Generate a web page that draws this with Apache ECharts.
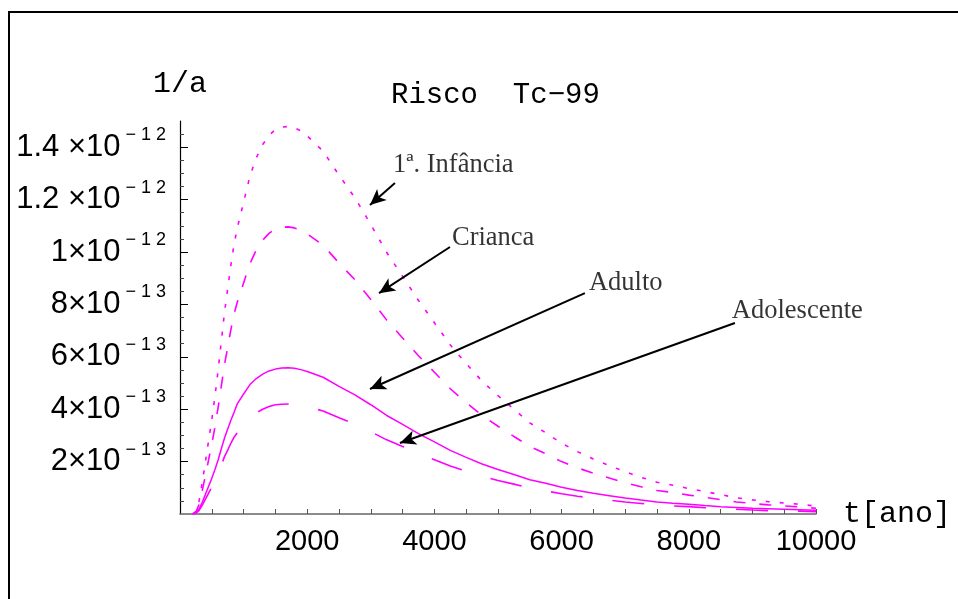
<!DOCTYPE html>
<html>
<head>
<meta charset="utf-8">
<script src="https://cdn.jsdelivr.net/npm/echarts@6/dist/echarts.min.js"></script>
<style>
  html, body { margin: 0; padding: 0; background: #fff; }
  #chart { width: 958px; height: 599px; }
</style>
</head>
<body>
<div id="chart"></div>
<script>
// ---------- data (risk in units of 1e-12 per year) ----------
const years = [200,250,300,350,400,450,500,550,600,650,700,750,800,850,900,
  1000,1100,1200,1300,1400,1500,1600,1700,1800,1900,2000,
  2250,2500,2750,3000,3250,3500,3750,4000,4250,4500,4750,5000,5250,5500,5750,6000,
  6250,6500,6750,7000,7250,7500,7750,8000,8250,8500,8750,9000,9250,9500,9750,10000];

const infancia = [0,0.01,0.05,0.12,0.20,0.28,0.36,0.45,0.55,0.66,0.77,0.86,0.95,1.03,1.09,
  1.19,1.29,1.36,1.41,1.445,1.468,1.477,1.479,1.474,1.462,1.443,
  1.385,1.293,1.207,1.105,0.998,0.907,0.815,0.73,0.645,0.574,0.507,0.452,0.40,0.348,0.31,0.27,
  0.238,0.21,0.185,0.161,0.14,0.121,0.11,0.097,0.086,0.074,0.062,0.054,0.047,0.042,0.037,0.03];

const crianca = [0,0.007,0.037,0.089,0.148,0.207,0.267,0.333,0.408,0.489,0.571,0.637,0.704,0.763,0.808,
  0.882,0.956,1.008,1.045,1.071,1.088,1.094,1.096,1.092,1.083,1.069,
  1.026,0.958,0.894,0.819,0.740,0.672,0.604,0.541,0.478,0.425,0.376,0.335,0.296,0.258,0.230,0.200,
  0.176,0.156,0.137,0.119,0.104,0.090,0.082,0.072,0.064,0.055,0.046,0.040,0.035,0.031,0.027,0.022];

const adulto = [0,0.004,0.019,0.045,0.075,0.106,0.136,0.170,0.207,0.249,0.290,0.324,0.358,0.388,0.42,
  0.458,0.494,0.517,0.534,0.546,0.553,0.557,0.558,0.556,0.551,0.544,
  0.522,0.487,0.455,0.417,0.376,0.342,0.307,0.275,0.243,0.216,0.191,0.170,0.151,0.131,0.117,0.102,
  0.090,0.079,0.070,0.061,0.053,0.046,0.041,0.037,0.032,0.028,0.025,0.022,0.020,0.018,0.016,0.014];

const adolescente = [0,0.003,0.014,0.034,0.057,0.080,0.102,0.128,0.156,0.187,0.219,0.244,0.270,0.293,0.310,
  0.338,0.366,0.386,0.400,0.410,0.417,0.419,0.420,0.419,0.415,0.410,
  0.393,0.367,0.343,0.314,0.283,0.258,0.231,0.207,0.183,0.163,0.144,0.128,0.114,0.099,0.088,0.077,
  0.068,0.060,0.053,0.046,0.040,0.034,0.031,0.028,0.024,0.021,0.018,0.015,0.013,0.012,0.011,0.009];

const xTickValues = [500,1000,1500,2000,2500,3000,3500,4000,4500,5000,5500,6000,6500,7000,7500,8000,8500,9000,9500,10000];
const xLabelValues = [2000,4000,6000,8000,10000];
const yTickValues = [0.2,0.4,0.6,0.8,1.0,1.2,1.4];
const yTickMantissa = ['2×10','4×10','6×10','8×10','1×10','1.2 ×10','1.4 ×10'];
const yTickExponent = ['− 1 3','− 1 3','− 1 3','− 1 3','− 1 2','− 1 2','− 1 2'];
const yMinorTickValues = [0.05,0.1,0.15,0.25,0.3,0.35,0.45,0.5,0.55,0.65,0.7,0.75,0.85,0.9,0.95,
  1.05,1.1,1.15,1.25,1.3,1.35,1.45];

const annotationNames = ['1ª. Infância','Crianca','Adulto','Adolescente'];
const annotationTextPos = [[3348,1.332],[4276,1.053],[6430,0.881],[8677,0.775]];
const arrowStart = [[3380,1.263],[4245,1.019],[6366,0.843],[8725,0.729]];
const arrowEnd = [[2987,1.179],[3129,0.843],[2987,0.477],[3458,0.271]];

// ---------- chart ----------
const pair = (ys) => years.map((t, i) => [t, ys[i]]);
const MAG = '#ff00ff';

function curve(name, ys, type, width) {
  return {
    name, type: 'line', data: pair(ys), showSymbol: false, symbol: 'none',
    smooth: false, silent: true, z: 3,
    lineStyle: { color: MAG, width: width, type: type }
  };
}

const chart = echarts.init(document.getElementById('chart'), null, { renderer: 'canvas' });
chart.setOption({
  animation: false,
  backgroundColor: '#fff',
  title: {
    text: 'Risco  Tc−99', left: 386, top: 76,
    textStyle: { fontFamily: 'Liberation Mono', fontSize: 29, fontWeight: 'normal', color: '#000' }
  },
  grid: { left: 180, right: 142, top: 121, bottom: 85, outerBoundsMode: 'none', containLabel: false },
  xAxis: {
    type: 'value', min: 0, max: 10000,
    name: 't[ano]', nameLocation: 'end', nameGap: 27, nameMoveOverlap: false,
    nameTextStyle: { fontFamily: 'Liberation Mono', fontSize: 30, color: '#000', verticalAlign: 'middle' },
    axisLine: { show: true, onZero: false, lineStyle: { color: '#666', width: 1.5 } },
    axisTick: { show: true, inside: true, length: 5, customValues: xTickValues, lineStyle: { color: '#555', width: 1 } },
    axisLabel: {
      customValues: xLabelValues, margin: 13,
      fontFamily: 'Liberation Sans', fontSize: 29, color: '#000',
      formatter: (v) => String(v)
    },
    splitLine: { show: false }
  },
  yAxis: [{
    type: 'value', min: 0, max: 1.5,
    name: '1/a', nameLocation: 'end', nameGap: 22,
    nameTextStyle: { fontFamily: 'Liberation Mono', fontSize: 30, color: '#000', align: 'center' },
    axisLine: { show: true, lineStyle: { color: '#000', width: 1.2 } },
    axisTick: { show: true, inside: true, length: 8, customValues: yTickValues, lineStyle: { color: '#000', width: 1 } },
    axisLabel: {
      customValues: yTickValues, margin: 14,
      formatter: (v) => {
        const i = yTickValues.findIndex(u => Math.abs(u - v) < 1e-9);
        if (i < 0) return '';
        return '{m|' + yTickMantissa[i] + '}{e|' + yTickExponent[i] + '}';
      },
      rich: {
        m: { fontFamily: 'Liberation Sans', fontSize: 31, color: '#000', lineHeight: 42 },
        e: { fontFamily: 'Liberation Sans', fontSize: 18, color: '#000', lineHeight: 18, verticalAlign: 'top', padding: [0, 0, 0, 5] }
      }
    },
    splitLine: { show: false }
  }, {
    type: 'value', min: 0, max: 1.5, position: 'left',
    axisLine: { show: false },
    axisTick: { show: true, inside: true, length: 4, customValues: yMinorTickValues, lineStyle: { color: '#444', width: 1 } },
    axisLabel: { show: false },
    splitLine: { show: false }
  }],
  graphic: [{
    type: 'rect', silent: true,
    shape: { x: 9, y: 12, width: 1200, height: 1200 },
    style: { fill: null, stroke: '#000', lineWidth: 2 }
  }],
  series: [
    curve('1ª. Infância', infancia, [4, 10], 1.6),
    curve('Crianca', crianca, [12, 14], 1.6),
    curve('Adulto', adulto, 'solid', 1.5),
    curve('Adolescente', adolescente, [32, 30], 1.6),
    {
      name: 'annotations', type: 'scatter', silent: true, z: 10,
      symbolSize: 0,
      itemStyle: { color: '#000' },
      data: annotationNames.map((n, i) => ({ name: n, value: annotationTextPos[i] })),
      label: {
        show: true, position: 'right', distance: 0, formatter: '{b}',
        fontFamily: 'Liberation Serif', fontSize: 26.5, color: '#000'
      },
      markLine: {
        silent: true, animation: false,
        symbol: ['none', 'arrow'], symbolSize: [11, 16],
        label: { show: false },
        itemStyle: { color: '#000' },
        lineStyle: { color: '#000', width: 2, type: 'solid' },
        emphasis: { disabled: true },
        data: arrowStart.map((s, i) => [{ coord: s }, { coord: arrowEnd[i] }])
      }
    }
  ]
});
</script>
</body>
</html>
